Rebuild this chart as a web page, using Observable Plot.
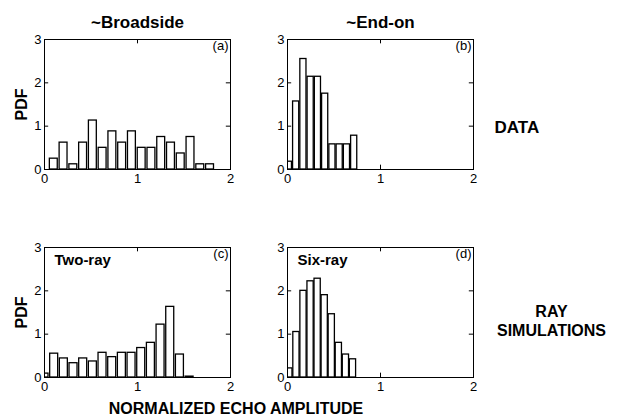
<!DOCTYPE html>
<html><head><meta charset="utf-8">
<script src="https://cdn.jsdelivr.net/npm/d3@7"></script>
<script src="https://cdn.jsdelivr.net/npm/@observablehq/plot@0.6"></script>
<style>body{margin:0;background:#fff} #chart{width:619px;height:416px}</style>
</head><body><div id="chart"></div>
<script>
// ---- data ----
const columns = ["~Broadside", "~End-on"];
const rows = ["DATA", "RAY\nSIMULATIONS"];
const panelTags = ["(a)", "(b)", "(c)", "(d)"];
const simNames = ["Two-ray", "Six-ray"];
const xTicks = [0, 1, 2];
const yTicks = [0, 1, 2, 3];
const xAxisLabel = "NORMALIZED ECHO AMPLITUDE";
const yAxisLabel = "PDF";

// (a) ~Broadside, data
const broadsideBins = [0.10, 0.205, 0.31, 0.415, 0.52, 0.625, 0.73, 0.835, 0.94, 1.045, 1.15, 1.255, 1.36, 1.465, 1.57, 1.675, 1.78];
const broadsidePdf  = [0.25, 0.62, 0.12, 0.62, 1.13, 0.50, 0.88, 0.62, 0.88, 0.50, 0.50, 0.75, 0.62, 0.37, 0.75, 0.12, 0.12];
// (b) ~End-on, data
const endOnBins = [0.015, 0.093, 0.171, 0.249, 0.327, 0.405, 0.483, 0.561, 0.639, 0.717];
const endOnPdf  = [0.18, 1.57, 2.55, 2.14, 2.14, 1.75, 0.58, 0.58, 0.58, 0.78];
// (c) Two-ray simulation
const twoRayBins = [0, 0.104, 0.208, 0.312, 0.416, 0.52, 0.624, 0.728, 0.832, 0.936, 1.04, 1.144, 1.248, 1.352, 1.456, 1.56];
const twoRayPdf  = [0.09, 0.55, 0.44, 0.33, 0.44, 0.37, 0.57, 0.47, 0.57, 0.57, 0.68, 0.80, 1.22, 1.63, 0.53, 0.02];
// (d) Six-ray simulation
const sixRayBins = [0.02, 0.096, 0.172, 0.248, 0.324, 0.40, 0.476, 0.552, 0.628, 0.704];
const sixRayPdf  = [0.21, 1.05, 2.00, 2.22, 2.28, 1.90, 1.46, 0.80, 0.53, 0.42];

// ---- build table ----
const panelSeries = [
  {col: columns[0], row: rows[0], bins: broadsideBins, pdf: broadsidePdf, w: 0.085},
  {col: columns[1], row: rows[0], bins: endOnBins, pdf: endOnPdf, w: 0.066},
  {col: columns[0], row: rows[1], bins: twoRayBins, pdf: twoRayPdf, w: 0.086},
  {col: columns[1], row: rows[1], bins: sixRayBins, pdf: sixRayPdf, w: 0.067}
];
const bars = panelSeries.flatMap(p => p.bins.map((b, i) => ({col: p.col, row: p.row, x1: b - p.w / 2, x2: b + p.w / 2, y: p.pdf[i]})));
const tags = panelSeries.map((p, i) => ({col: p.col, row: p.row, text: panelTags[i]}));
const sims = simNames.map((s, i) => ({col: columns[i], row: rows[1], text: s}));

const font = "'Liberation Sans', Arial, Helvetica, sans-serif";

const chart = Plot.plot({
  width: 619,
  height: 416,
  marginLeft: 43,
  marginRight: 145,
  marginTop: 39,
  marginBottom: 39,
  style: {fontFamily: font, background: "white", color: "black", overflow: "visible"},
  x: {domain: [0, 2], axis: null},
  y: {domain: [0, 3], axis: null},
  fx: {domain: columns, paddingInner: 0.2336, paddingOuter: 0, axis: null},
  fy: {domain: rows, paddingInner: 0.375, paddingOuter: 0, axis: null},
  marks: [
    // inward ticks on all four sides
    Plot.ruleX(xTicks, {x: d => d, y1: 0, y2: 0.1, stroke: "black"}),
    Plot.ruleX(xTicks, {x: d => d, y1: 3, y2: 2.9, stroke: "black"}),
    Plot.ruleY(yTicks, {y: d => d, x1: 0, x2: 0.045, stroke: "black"}),
    Plot.ruleY(yTicks, {y: d => d, x1: 2, x2: 1.955, stroke: "black"}),
    // histogram bars
    Plot.rect(bars, {fx: "col", fy: "row", x1: "x1", x2: "x2", y1: 0, y2: "y", fill: "white", stroke: "black", strokeWidth: 1.3, clip: true}),
    Plot.frame({stroke: "black", strokeWidth: 1}),
    // tick labels
    Plot.text(xTicks, {x: d => d, text: d => String(d), frameAnchor: "bottom", lineAnchor: "top", dy: 4, fontSize: 13}),
    Plot.text(yTicks, {y: d => d, text: d => String(d), frameAnchor: "left", textAnchor: "end", lineAnchor: "middle", dx: -3, fontSize: 13}),
    // panel tags
    Plot.text(tags, {fx: "col", fy: "row", text: "text", frameAnchor: "top-right", textAnchor: "end", lineAnchor: "bottom", dx: -2, dy: 10, fontSize: 13}),
    Plot.text(sims, {fx: "col", fy: "row", text: "text", frameAnchor: "top-left", textAnchor: "start", lineAnchor: "bottom", dx: 10, dy: 17, fontSize: 15, fontWeight: "bold"}),
    // column titles
    Plot.text(columns, {fx: d => d, fy: () => rows[0], text: d => d, frameAnchor: "top", lineAnchor: "bottom", dy: -12, fontSize: 17, fontWeight: "bold"}),
    // row labels
    Plot.text([rows[0]], {fx: () => columns[1], fy: d => d, text: d => d, frameAnchor: "right", textAnchor: "start", lineAnchor: "bottom", dx: 21, dy: 28, fontSize: 17, fontWeight: "bold"}),
    Plot.text([rows[1]], {fx: () => columns[1], fy: d => d, text: d => d, frameAnchor: "right", textAnchor: "middle", lineAnchor: "bottom", dx: 78, dy: 23, lineHeight: 1.15, fontSize: 16, fontWeight: "bold"}),
    // y label
    Plot.text(rows, {fx: () => columns[0], fy: d => d, text: () => yAxisLabel, frameAnchor: "left", textAnchor: "middle", lineAnchor: "bottom", rotate: -90, dx: -18, fontSize: 16, fontWeight: "bold"}),
    // x label
    Plot.text([xAxisLabel], {fx: () => columns[0], fy: () => rows[1], text: d => d, frameAnchor: "bottom", textAnchor: "middle", lineAnchor: "bottom", dx: 98.5, dy: 36, fontSize: 16, fontWeight: "bold"})
  ]
});
document.getElementById("chart").appendChild(chart);
</script>
</body></html>
